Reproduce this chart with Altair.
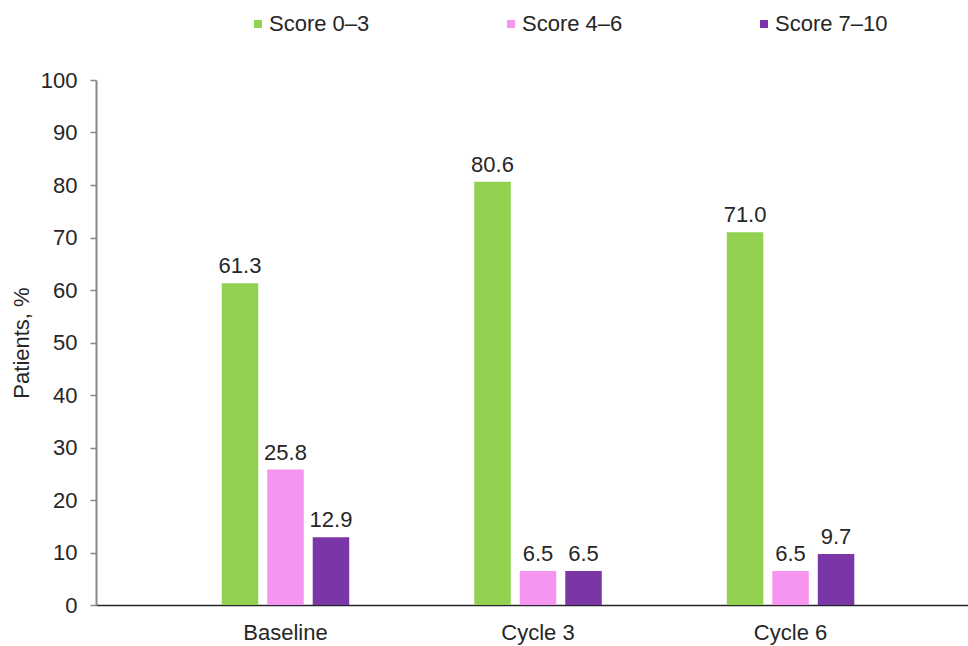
import altair as alt
import pandas as pd

# Share of patients per score band at each assessment
timepoints = ["Baseline", "Cycle 3", "Cycle 6"]
score_groups = ["Score 0\u20133", "Score 4\u20136", "Score 7\u201310"]
score_0_3 = [61.3, 80.6, 71.0]
score_4_6 = [25.8, 6.5, 6.5]
score_7_10 = [12.9, 6.5, 9.7]
group_colors = ["#92D050", "#F595F0", "#7A36A6"]

rows = []
for group, values in zip(score_groups, [score_0_3, score_4_6, score_7_10]):
    for tp, v in zip(timepoints, values):
        rows.append({"timepoint": tp, "group": group, "pct": v, "label": f"{v:.1f}"})
df = pd.DataFrame(rows)

FONT = "Liberation Sans"
TEXT = "#262626"

x = alt.X(
    "timepoint:N",
    sort=timepoints,
    title=None,
    scale=alt.Scale(paddingInner=0.315, paddingOuter=0.384, align=0.531),
    axis=alt.Axis(
        labelAngle=0,
        ticks=False,
        domainColor=TEXT,
        domainWidth=1.5,
        labelPadding=17,
        labelFontSize=22,
        labelFont=FONT,
        labelColor=TEXT,
    ),
)
x_off = alt.XOffset(
    "group:N",
    sort=score_groups,
    scale=alt.Scale(paddingInner=0.198, paddingOuter=0.5),
)
y = alt.Y(
    "pct:Q",
    scale=alt.Scale(domain=[0, 100], nice=False),
    axis=alt.Axis(
        values=list(range(0, 101, 10)),
        title="Patients, %",
        grid=False,
        domainColor="#888888",
        domainWidth=2,
        tickColor="#888888",
        tickWidth=1.5,
        tickSize=6,
        labelPadding=13,
        labelFontSize=22,
        labelFont=FONT,
        labelColor=TEXT,
        titleFont=FONT,
        titleFontSize=22,
        titleFontWeight="normal",
        titleColor=TEXT,
        titleAngle=270,
        titleX=-68,
        titleY=262.5,
        titleAlign="center",
        titleBaseline="alphabetic",
    ),
)
color = alt.Color(
    "group:N",
    sort=score_groups,
    scale=alt.Scale(domain=score_groups, range=group_colors),
    legend=alt.Legend(
        title=None,
        orient="none",
        legendX=151,
        legendY=-67,
        direction="horizontal",
        symbolType="square",
        symbolSize=64,
        symbolStrokeWidth=0,
        labelFontSize=22,
        labelFont=FONT,
        labelColor=TEXT,
        labelOffset=0,
        columnPadding=130,
        padding=0,
    ),
)

bars = alt.Chart(df).mark_bar().encode(x=x, xOffset=x_off, y=y, color=color)

values_text = alt.Chart(df).mark_text(
    baseline="alphabetic", dy=-10, fontSize=22, font=FONT, color=TEXT
).encode(x=x, xOffset=x_off, y=y, text="label:N")

chart = (
    alt.layer(bars, values_text)
    .properties(
        width=872,
        height=525,
        padding={"left": 96, "top": 80, "right": 0, "bottom": 41},
        autosize=alt.AutoSizeParams(type="none"),
        background="white",
    )
    .configure_view(stroke="transparent")
)

chart.save("out.html", embed_options={"renderer": "svg", "actions": False})
